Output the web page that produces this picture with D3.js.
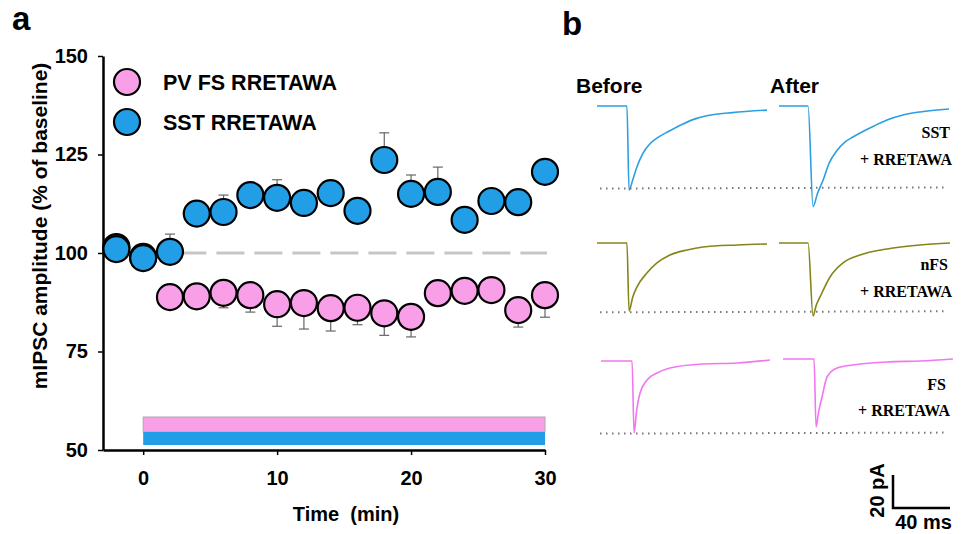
<!DOCTYPE html>
<html>
<head>
<meta charset="utf-8">
<script src="https://cdn.jsdelivr.net/npm/d3@7"></script>
<style>
  body { margin: 0; background: #fff; }
  svg { display: block; font-family: Arial, "Liberation Sans", sans-serif; }
  .serif { font-family: "Times New Roman", "Liberation Serif", serif; font-weight: bold; }
</style>
</head>
<body>
<svg width="961" height="534"></svg>
<script>
// time points (min)
const times = [-2, 0, 2, 4, 6, 8, 10, 12, 14, 16, 18, 20, 22, 24, 26, 28, 30];
// PV FS + RRETAWA, % of baseline, and SEM
const pvValues = [101.5, 99, 88.8, 89, 89.9, 89.3, 87, 87.3, 86, 86.1, 84.7, 83.8, 89.8, 90.4, 90.6, 85.5, 89.3];
const pvErr    = [2, 2, 3, 3, 3.8, 4.3, 5.6, 6.6, 5.8, 4.3, 5.6, 5.1, 2, 2, 2, 4.3, 5.6];
// SST + RRETAWA
const sstValues = [101, 98.7, 100.3, 110, 110.4, 114.7, 114, 112.7, 115.2, 110.7, 123.6, 115, 115.5, 108.4, 113.2, 112.9, 120.6];
const sstErr    = [2, 2, 4.5, 3, 4.3, 3, 4.6, 3, 3, 3, 6.9, 4.8, 6.3, 3, 3, 3, 3];
const yTicks = [50, 75, 100, 125, 150];
const xTicks = [0, 10, 20, 30];
const drugPeriod = [0, 30];
const baselineLevel = 100;

// example traces, [ms, pA] relative to holding baseline
const sstBefore = [[0,0],[21,0],[22.5,-51],[25,-45],[28,-37],[32,-29],[37,-23],[42,-19.5],[50,-15.5],[60,-11],[70,-7.5],[80,-5.5],[95,-4],[119.3,-2.5]];
const sstAfter  = [[0,0],[20.4,0],[23.9,-61],[27,-53],[30.9,-45],[35,-35],[40.7,-27],[46,-22],[51.9,-18.8],[63.9,-13.3],[75.8,-8.5],[87,-5.5],[99,-3.6],[119.3,-1.8]];
const nfsBefore = [[0,0],[21,0],[22.5,-41.2],[25,-33],[28,-26.7],[35,-18.2],[42.1,-12.1],[51.2,-7.3],[63.2,-4.2],[74.4,-2.4],[98.2,-1.2],[119.3,-0.6]];
const nfsAfter  = [[0,0],[20.4,0],[23.9,-44.2],[26,-38],[28.8,-32.7],[35.8,-20.6],[44.9,-12.1],[56.8,-7.3],[75.8,-3.6],[98.9,-1.2],[120,0]];
const fsBefore  = [[0,0],[21.8,0],[23.2,-43.6],[25,-30],[27.4,-19.4],[32.3,-11.5],[39.3,-7.3],[48.4,-4.2],[71.6,-1.8],[95.4,-1.2],[118.6,0.6]];
const fsAfter   = [[0,0],[21.8,0],[23.2,-41.2],[25,-32],[27.4,-23],[30.9,-10.9],[37.9,-5.5],[49.1,-3.6],[73,-1.8],[96.1,-1.2],[119.3,0]];
const peakLevels = [-50, -42, -44]; // dotted reference lines (pA)

const pink = '#f99fe8', blue = '#219ee6';
const svg = d3.select('svg');

// ---------- panel a ----------
const x = d3.scaleLinear().domain([-3, 30]).range([103, 545]);
const y = d3.scaleLinear().domain([50, 150]).range([450, 56]);

svg.append('text').attr('x', 12).attr('y', 30).attr('font-size', 33).attr('font-weight', 'bold').text('a');
svg.append('text').attr('x', 562).attr('y', 35).attr('font-size', 33).attr('font-weight', 'bold').text('b');

const yAxis = svg.append('g').attr('transform', 'translate(103,0)')
  .call(d3.axisLeft(y).tickValues(yTicks).tickSize(5).tickSizeOuter(0).tickPadding(10));
const xAxis = svg.append('g').attr('transform', 'translate(0,450)')
  .call(d3.axisBottom(x).tickValues(xTicks).tickSize(5).tickSizeOuter(0).tickPadding(16));
[yAxis, xAxis].forEach(g => {
  g.select('.domain').attr('stroke-width', 2.5);
  g.selectAll('.tick line').attr('stroke-width', 1.5);
  g.selectAll('text').attr('font-size', 20).attr('font-weight', 'bold')
    .attr('font-family', 'Arial, "Liberation Sans", sans-serif').attr('fill', '#000');
});

svg.append('text').attr('transform', 'translate(47,226) rotate(-90)')
  .attr('text-anchor', 'middle').attr('font-size', 21).attr('font-weight', 'bold')
  .text('mIPSC amplitude (% of baseline)');
svg.append('text').attr('x', 346).attr('y', 521).attr('text-anchor', 'middle')
  .attr('font-size', 20).attr('font-weight', 'bold').attr('xml:space', 'preserve')
  .text('Time  (min)');

// dashed baseline
svg.append('line').attr('x1', x(0)).attr('x2', x(30) + 2).attr('y1', y(baselineLevel)).attr('y2', y(baselineLevel))
  .attr('stroke', '#c6c6c6').attr('stroke-width', 3).attr('stroke-dasharray', '28,10').attr('stroke-dashoffset', 2.8);

// drug application bars
svg.append('rect').attr('x', x(drugPeriod[0])).attr('width', x(drugPeriod[1]) - x(drugPeriod[0]))
  .attr('y', 417).attr('height', 15).attr('fill', pink).attr('stroke', '#aaa').attr('stroke-width', 1);
svg.append('rect').attr('x', x(drugPeriod[0])).attr('width', x(drugPeriod[1]) - x(drugPeriod[0]))
  .attr('y', 432).attr('height', 13).attr('fill', blue);

function drawSeries(vals, errs, dir, fill) {
  const g = svg.append('g');
  const pts = times.map((t, i) => ({t, v: vals[i], e: errs[i]}));
  const eb = g.selectAll('g.err').data(pts).enter().append('g').attr('stroke', '#666').attr('stroke-width', 1.2);
  eb.append('line').attr('x1', d => x(d.t)).attr('x2', d => x(d.t))
    .attr('y1', d => y(d.v)).attr('y2', d => y(d.v + dir * d.e));
  eb.append('line').attr('x1', d => x(d.t) - 5).attr('x2', d => x(d.t) + 5)
    .attr('y1', d => y(d.v + dir * d.e)).attr('y2', d => y(d.v + dir * d.e));
  g.selectAll('circle').data(pts).enter().append('circle')
    .attr('cx', d => x(d.t)).attr('cy', d => y(d.v)).attr('r', 13)
    .attr('fill', fill).attr('stroke', '#000').attr('stroke-width', 2.2);
}
drawSeries(pvValues, pvErr, -1, pink);
drawSeries(sstValues, sstErr, 1, blue);

// legend
[['PV FS RRETAWA', pink, 82], ['SST RRETAWA', blue, 122]].forEach(([lab, c, cy]) => {
  svg.append('circle').attr('cx', 127).attr('cy', cy).attr('r', 13).attr('fill', c)
    .attr('stroke', '#000').attr('stroke-width', 2.2);
  svg.append('text').attr('x', 163).attr('y', cy + 8).attr('font-size', 21.5).attr('font-weight', 'bold').text(lab);
});

// ---------- panel b ----------
const tx = d3.scaleLinear().domain([0, 40]).range([0, 57]);
const ty = d3.scaleLinear().domain([0, 20]).range([0, -33]);
const line = d3.line().x(d => tx(d[0])).y(d => ty(d[1])).curve(d3.curveMonotoneX);

svg.append('text').attr('x', 576).attr('y', 93).attr('font-size', 21).attr('font-weight', 'bold').text('Before');
svg.append('text').attr('x', 770).attr('y', 93).attr('font-size', 21).attr('font-weight', 'bold').text('After');

const rows = [
  {b: sstBefore, a: sstAfter, c: '#2c9ee2', x0: [597, 779], y0: [106, 106], peak: peakLevels[0], lab: ['SST', '+ RRETAWA'], ly: [138, 165], lx: [950, 952]},
  {b: nfsBefore, a: nfsAfter, c: '#85851a', x0: [597, 779], y0: [243, 243], peak: peakLevels[1], lab: ['nFS', '+ RRETAWA'], ly: [270, 297], lx: [948, 952]},
  {b: fsBefore, a: fsAfter, c: '#f276f0', x0: [601, 783], y0: [361, 359], peak: peakLevels[2], lab: ['FS', '+ RRETAWA'], ly: [390, 416], lx: [946, 950]}
];
rows.forEach(r => {
  [r.b, r.a].forEach((tr, k) => {
    svg.append('path').attr('transform', `translate(${r.x0[k]},${r.y0[k]})`)
      .attr('d', line(tr)).attr('fill', 'none').attr('stroke', r.c).attr('stroke-width', 1.6);
  });
  svg.append('line').attr('x1', 600).attr('x2', 945)
    .attr('y1', r.y0[0] + ty(r.peak)).attr('y2', r.y0[0] + ty(r.peak) - 1)
    .attr('stroke', '#777').attr('stroke-width', 2).attr('stroke-dasharray', '1.5,4.5');
  r.lab.forEach((t, i) => {
    svg.append('text').attr('class', 'serif').attr('x', r.lx[i]).attr('y', r.ly[i])
      .attr('text-anchor', 'end').attr('font-size', 16).text(t);
  });
});

// scale bar
const sb = {x: 893, y: 508};
svg.append('path').attr('d', `M${sb.x},${sb.y + ty(20)}V${sb.y}H${sb.x + tx(40)}`)
  .attr('fill', 'none').attr('stroke', '#000').attr('stroke-width', 2.5);
svg.append('text').attr('transform', `translate(884,${sb.y + ty(10) - 1}) rotate(-90)`)
  .attr('text-anchor', 'middle').attr('font-size', 20).attr('font-weight', 'bold').text('20 pA');
svg.append('text').attr('x', sb.x + tx(20) + 2).attr('y', 529).attr('text-anchor', 'middle')
  .attr('font-size', 20).attr('font-weight', 'bold').text('40 ms');
</script>
</body>
</html>
